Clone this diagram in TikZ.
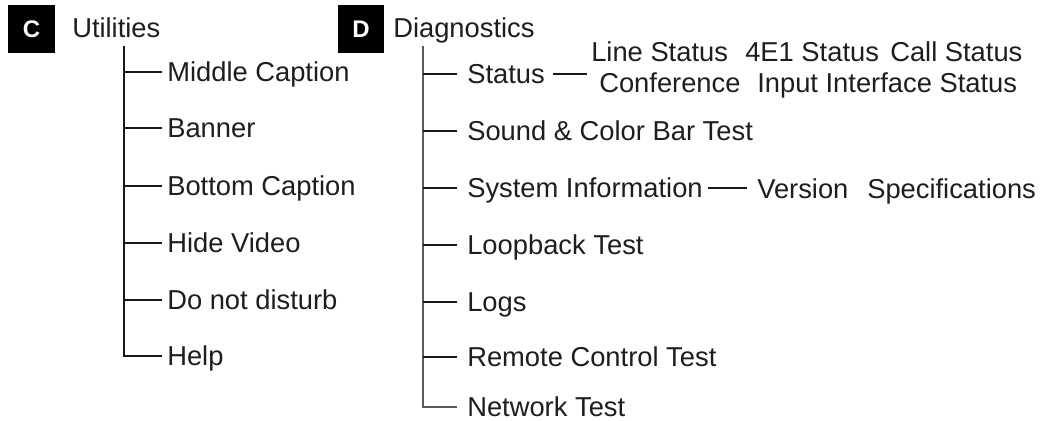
\documentclass[tikz,border=0pt]{standalone}
\usepackage{fontspec}
\setmainfont{Liberation Sans}
\usetikzlibrary{fit}
\definecolor{txt}{HTML}{1E1E1E}
\definecolor{trunkgray}{HTML}{5A5A5A}
\begin{document}
\begin{tikzpicture}[x=0.75pt,y=-0.75pt,
  lbl/.style={anchor=west,inner sep=0pt,text height=15.8pt,text depth=1.2pt,
    font=\fontsize{20.5}{24}\selectfont,text=txt},
  hdr/.style={anchor=base west,inner sep=0pt,font=\fontsize{20.5}{24}\selectfont,text=txt},
  keybox/.style={fill=black,minimum width=35pt,minimum height=36pt,inner sep=0pt,
    text=white,font=\bfseries\fontsize{18}{20}\selectfont},
  grp/.style={inner sep=0pt},
  treeL/.style={draw=black!90,line width=1.4pt,shorten >=3.75pt},
  branchR/.style={draw=black!90,line width=1.3pt,shorten >=7.5pt},
  trunkR/.style={draw=trunkgray,line width=2.2pt,shorten >=7.5pt},
  link/.style={draw=black!90,line width=1.3pt}]
\useasboundingbox (0,0) rectangle (1042,421);
\fill[white] (0,0) rectangle (1042,421);

% headers
\node[keybox] (cbox) at (31.5,29) {C};
\node[hdr] (util) at (72,37) {Utilities};
\node[keybox] (dbox) at (361,29) {D};
\node[hdr] (diag) at (393,37) {Diagnostics};

% Utilities tree
\coordinate (ctop) at (124,46);
\node[lbl] (mid) at (167,72) {Middle Caption};
\node[lbl] (banner) at (167,128) {Banner};
\node[lbl] (bottom) at (167,186) {Bottom Caption};
\node[lbl] (hide) at (167,243) {Hide Video};
\node[lbl] (dnd) at (167,300) {Do not disturb};
\node[lbl] (help) at (167,356) {Help};
\draw[treeL] (ctop) |- (help.west);
\foreach \n in {mid,banner,bottom,hide,dnd}
  \draw[treeL] (ctop |- \n.west) -- (\n.west);

% Diagnostics tree
\coordinate (dtop) at (423,46);
\node[lbl] (status) at (467,74) {Status};
\node[lbl] (sound) at (467,131) {Sound \& Color Bar Test};
\node[lbl] (sysinfo) at (467,188) {System Information};
\node[lbl] (loop) at (467,245) {Loopback Test};
\node[lbl] (logs) at (467,302) {Logs};
\node[lbl] (remote) at (467,357) {Remote Control Test};
\node[lbl] (net) at (467,407) {Network Test};
\draw[trunkR] (dtop) |- (net.west);
\foreach \n in {status,sound,sysinfo,loop,logs,remote}
  \draw[branchR] (dtop |- \n.west) -- (\n.west);

% Status sub-items
\node[lbl] (linest) at (591,52) {Line Status};
\node[lbl] (e1st) at (745,52) {4E1 Status};
\node[lbl] (callst) at (890,52) {Call Status};
\node[lbl] (conf) at (599,83) {Conference};
\node[lbl] (input) at (757,83) {Input Interface Status};
\node[grp,fit=(linest)(callst)(conf)(input)] (stgrp) {};
\draw[link,shorten <=6pt,shorten >=3pt] (status.east) -- (status.east -| stgrp.west);

% System information sub-items
\node[lbl] (ver) at (757,189) {Version};
\node[lbl] (spec) at (867,189) {Specifications};
\node[grp,fit=(ver)(spec)] (vsgrp) {};
\draw[link,shorten <=3.75pt,shorten >=7.5pt] (sysinfo.east) -- (sysinfo.east -| vsgrp.west);
\end{tikzpicture}
\end{document}
